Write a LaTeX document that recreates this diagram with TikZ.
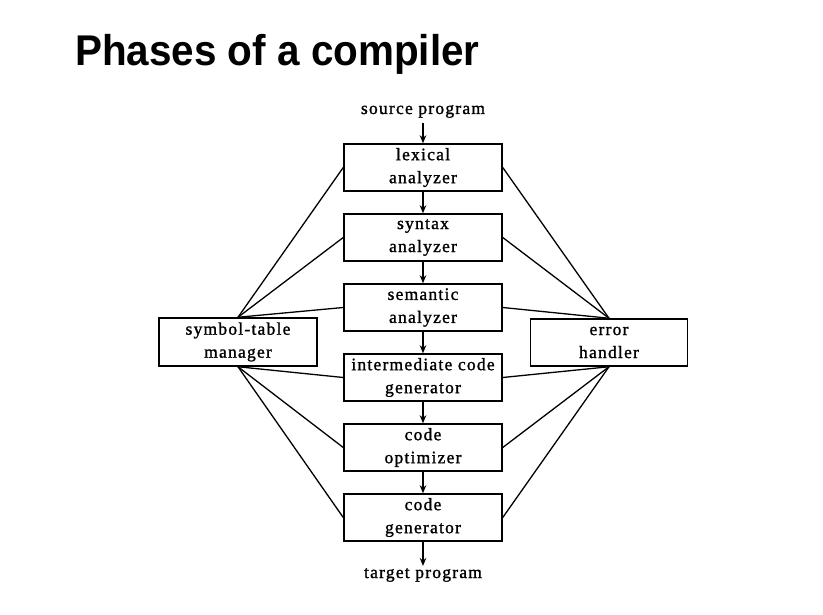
\documentclass[tikz,border=0pt]{standalone}
\usepackage{fontspec}
\setmainfont{Liberation Serif}[LetterSpace=7, FakeBold=1.3]
\newfontfamily\titlefont{Liberation Sans}[BoldFont={Liberation Sans Bold}]
\usetikzlibrary{arrows.meta}
\begin{document}
\begin{tikzpicture}[x=1pt,y=-1pt,
  phase/.style={draw, line width=1.5pt, minimum width=158pt, minimum height=47pt,
    inner sep=0pt, align=center, font=\fontsize{17.5}{23}\selectfont},
  lbl/.style={inner sep=0pt, font=\fontsize{17.5}{23}\selectfont},
  link/.style={line width=1.3pt},
  flow/.style={line width=1.4pt, -{Stealth[length=8pt,width=6.5pt]}}]
\useasboundingbox[fill=white] (0,0) rectangle (823,615);
\node[anchor=base west, inner sep=0pt] (title) at (75,66)
  {\scalebox{0.94}[1]{\titlefont\bfseries\fontsize{43}{50}\selectfont Phases of a compiler}};
\node[phase] (lex) at (423,167.5) {lexical\\analyzer};
\node[phase] (syn) at (423,237.5) {syntax\\analyzer};
\node[phase] (sem) at (423,307.5) {semantic\\analyzer};
\node[phase] (icg) at (423,377.5) {intermediate code\\generator};
\node[phase] (opt) at (423,447.5) {code\\optimizer};
\node[phase] (gen) at (423,517.5) {code\\generator};
\node[phase, minimum height=48pt] (sym) at (238,342) {symbol-table\\manager};
\node[phase, minimum width=157pt] (err) at (609,342.5) {error\\handler};
\node[lbl, anchor=base] (src) at (423,114) {source program};
\node[lbl, anchor=base] (tgt) at (423,578) {target program};
\draw[flow] ([yshift=-5pt]src.south) -- (lex.north);
\draw[flow] (lex) -- (syn);
\draw[flow] (syn) -- (sem);
\draw[flow] (sem) -- (icg);
\draw[flow] (icg) -- (opt);
\draw[flow] (opt) -- (gen);
\draw[flow] (gen.south) -- ([yshift=2pt]tgt.north);
\foreach \n in {lex,syn,sem} {
  \draw[link] (sym.north) -- (\n.west);
  \draw[link] (err.north) -- (\n.east);
}
\foreach \n in {icg,opt,gen} {
  \draw[link] (sym.south) -- (\n.west);
  \draw[link] (err.south) -- (\n.east);
}
\end{tikzpicture}
\end{document}
